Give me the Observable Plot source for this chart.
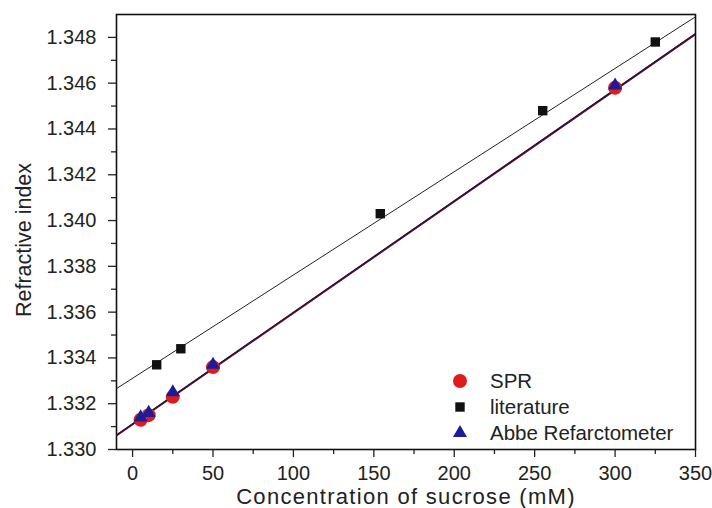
<!DOCTYPE html>
<html>
<head>
<meta charset="utf-8">
<script src="https://cdn.jsdelivr.net/npm/d3@7"></script>
<script src="https://cdn.jsdelivr.net/npm/@observablehq/plot@0.6"></script>
<style>
  html, body { margin: 0; padding: 0; background: #fff; }
  #wrap { position: relative; width: 712px; height: 508px; font-family: "Liberation Sans", Arial, sans-serif; }
  #legend { position: absolute; left: 448px; top: 368px; font-size: 20.5px; color: #222; line-height: 26px; }
  #legend .row { display: flex; align-items: center; height: 26px; }
  #legend svg { width: 24px; height: 24px; margin-right: 18px; }
</style>
</head>
<body>
<div id="wrap"><div id="legend"></div></div>
<script>
// Data
const sprX = [5, 10, 25, 50, 300];
const sprY = [1.3313, 1.3315, 1.3323, 1.3336, 1.3458];
const abbeX = [5, 10, 25, 50, 300];
const abbeY = [1.3314, 1.3316, 1.3325, 1.3337, 1.3459];
const litX = [15, 30, 154, 255, 325];
const litY = [1.3337, 1.3344, 1.3403, 1.3448, 1.3478];
// Linear fit lines (end points)
const fitX = [-10, 350];
const litFitY = [1.33266, 1.34890];
const sprFitY = [1.33061, 1.34814];
const abbeFitY = [1.33063, 1.34816];
// Axis ticks
const xTicks = [0, 50, 100, 150, 200, 250, 300, 350];
const xMinor = [25, 75, 125, 175, 225, 275, 325];
const yTicks = [1.330, 1.332, 1.334, 1.336, 1.338, 1.340, 1.342, 1.344, 1.346, 1.348];
const yMinor = [1.331, 1.333, 1.335, 1.337, 1.339, 1.341, 1.343, 1.345, 1.347];
const series = [
  {name: "SPR", color: "#e01b1b", symbol: "circle"},
  {name: "literature", color: "#111111", symbol: "square"},
  {name: "Abbe Refarctometer", color: "#1c1c9a", symbol: "triangle"}
];

const pts = (xs, ys) => xs.map((x, i) => ({x, y: ys[i]}));
const spr = pts(sprX, sprY), abbe = pts(abbeX, abbeY), lit = pts(litX, litY);
const litFit = pts(fitX, litFitY), sprFit = pts(fitX, sprFitY), abbeFit = pts(fitX, abbeFitY);

const chart = Plot.plot({
  width: 712,
  height: 508,
  marginLeft: 116,
  marginRight: 17,
  marginTop: 14,
  marginBottom: 59,
  style: {fontFamily: "Liberation Sans, Arial, sans-serif", color: "#222", background: "transparent"},
  x: {domain: [-10, 350]},
  y: {domain: [1.330, 1.349]},
  marks: [
    Plot.axisX({ticks: xTicks, tickSize: 8, tickPadding: 8, fontSize: 20, label: null, strokeWidth: 1.3}),
    Plot.axisX({ticks: xMinor, tickSize: 5, text: null, label: null, strokeWidth: 1.3}),
    Plot.axisY({ticks: yTicks, tickSize: 8, tickPadding: 12, fontSize: 20, tickFormat: d3.format(".3f"), label: null, strokeWidth: 1.3}),
    Plot.axisY({ticks: yMinor, tickSize: 5, text: null, label: null, strokeWidth: 1.3}),
    Plot.frame({stroke: "#111", strokeWidth: 1.6}),
    Plot.line(litFit, {x: "x", y: "y", stroke: "#222", strokeWidth: 1, clip: true}),
    Plot.line(sprFit, {x: "x", y: "y", stroke: "#7a1025", strokeWidth: 2, clip: true}),
    Plot.line(abbeFit, {x: "x", y: "y", stroke: "#241640", strokeWidth: 1.4, clip: true}),
    Plot.dot(spr, {x: "x", y: "y", r: 7, fill: series[0].color, symbol: "circle"}),
    Plot.dot(lit, {x: "x", y: "y", r: 5.3, fill: series[1].color, symbol: "square"}),
    Plot.dot(abbe, {x: "x", y: "y", r: 5.2, fill: series[2].color, symbol: "triangle"}),
    Plot.text(["Concentration of sucrose (mM)"], {frameAnchor: "bottom", dy: 47.5, lineAnchor: "middle", fontSize: 22, fill: "#222"}),
    Plot.text(["Refractive index"], {frameAnchor: "left", textAnchor: "middle", dx: -92, dy: 8, rotate: -90, fontSize: 21.5, fill: "#222"})
  ]
});
const wrap = document.getElementById("wrap");
wrap.insertBefore(chart, wrap.firstChild);
d3.select(chart).selectAll("text").filter(function() { return this.textContent === "Concentration of sucrose (mM)"; }).style("letter-spacing", "1.3px");

// Legend
const legend = d3.select("#legend");
for (const s of series) {
  const row = legend.append("div").attr("class", "row");
  const svg = row.append("svg").attr("viewBox", "-12 -12 24 24");
  const size = s.symbol === "circle" ? Math.PI * 49 : s.symbol === "square" ? Math.PI * 5.3 * 5.3 : Math.PI * 27;
  const sym = s.symbol === "circle" ? d3.symbolCircle : s.symbol === "square" ? d3.symbolSquare : d3.symbolTriangle;
  svg.append("path").attr("d", d3.symbol(sym, size)()).attr("fill", s.color);
  row.append("span").text(s.name);
}
</script>
</body>
</html>
